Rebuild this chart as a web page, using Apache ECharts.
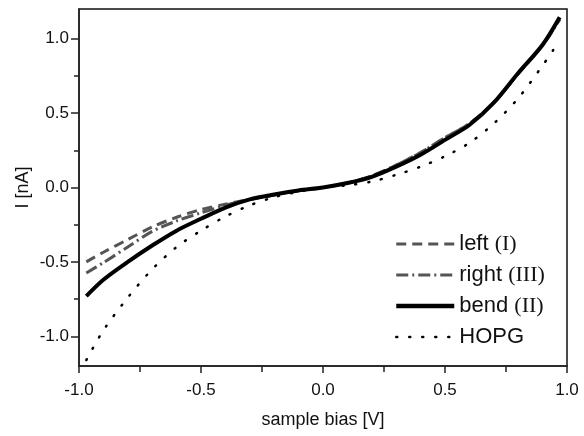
<!DOCTYPE html>
<html>
<head>
<meta charset="utf-8">
<script src="https://cdn.jsdelivr.net/npm/echarts@6/dist/echarts.min.js"></script>
<style>
  html, body { margin: 0; padding: 0; background: #fff; }
  #main { width: 584px; height: 436px; }
</style>
</head>
<body>
<div id="main"></div>
<script>
// sample bias [V]
var bias = [-0.97, -0.9, -0.8, -0.7, -0.6, -0.5, -0.4, -0.3, -0.2, -0.1, 0,
            0.1, 0.2, 0.3, 0.4, 0.5, 0.6, 0.7, 0.8, 0.9, 0.97];
var hopgBias = [-0.97, -0.9, -0.8, -0.7, -0.6, -0.5, -0.4, -0.3, -0.2, -0.1, 0,
                0.1, 0.2, 0.3, 0.4, 0.5, 0.6, 0.7, 0.8, 0.9, 0.95];

// current I [nA]
var leftI  = [-0.50, -0.435, -0.35, -0.265, -0.20, -0.148, -0.112, -0.08, -0.05, -0.02, 0,
              0.03, 0.078, 0.15, 0.235, 0.335, 0.43, 0.57, 0.765, 0.955, 1.13];
var rightIII = [-0.575, -0.505, -0.40, -0.295, -0.225, -0.17, -0.12, -0.08, -0.05, -0.02, 0,
                0.03, 0.078, 0.15, 0.235, 0.335, 0.43, 0.57, 0.765, 0.955, 1.13];
var bendII = [-0.73, -0.62, -0.50, -0.39, -0.29, -0.21, -0.135, -0.08, -0.047, -0.02, 0,
              0.03, 0.072, 0.14, 0.22, 0.32, 0.42, 0.57, 0.77, 0.96, 1.145];
var hopg   = [-1.16, -0.96, -0.74, -0.55, -0.40, -0.29, -0.195, -0.12, -0.065, -0.028, 0,
              0.015, 0.04, 0.085, 0.14, 0.21, 0.30, 0.43, 0.60, 0.82, 0.94];

var yTicks = [-1.0, -0.5, 0.0, 0.5, 1.0];
var yMinorTicks = [-0.75, -0.25, 0.25, 0.75];

function pairs(xs, ys) {
    var out = [];
    for (var i = 0; i < xs.length; i++) {
        out.push([xs[i], ys[i]]);
    }
    return out;
}

var myChart = echarts.init(document.getElementById('main'));

var labelFont = 'Liberation Sans, Arial, sans-serif';
var serifFont = 'Liberation Serif, Times New Roman, serif';

var legendNames = {
    'left': '{a|left }{b|(I)}',
    'right': '{a|right }{b|(III)}',
    'bend': '{a|bend }{b|(II)}',
    'HOPG': '{a|HOPG}'
};

var option = {
    backgroundColor: '#fff',
    animation: false,
    grid: {
        left: 79, right: 17, top: 9, bottom: 70,
        show: true,
        borderColor: '#111',
        borderWidth: 1.5
    },
    legend: {
        orient: 'vertical',
        left: 389,
        top: 228,
        itemWidth: 58,
        itemHeight: 14,
        itemGap: 9,
        itemStyle: { opacity: 0 },
        data: [
            { name: 'left', lineStyle: { width: 3 } },
            { name: 'right', lineStyle: { width: 3 } },
            { name: 'bend', lineStyle: { width: 4.5 } },
            { name: 'HOPG', lineStyle: { width: 2.5 } }
        ],
        formatter: function (name) { return legendNames[name]; },
        textStyle: {
            rich: {
                a: { fontFamily: labelFont, fontSize: 22, color: '#111', lineHeight: 26 },
                b: { fontFamily: serifFont, fontSize: 22, color: '#111', lineHeight: 26 }
            }
        }
    },
    xAxis: {
        type: 'value',
        min: -1,
        max: 1,
        interval: 0.5,
        name: 'sample bias [V]',
        nameLocation: 'middle',
        nameGap: 45,
        nameTextStyle: { fontFamily: labelFont, fontSize: 18, color: '#111' },
        axisLine: { onZero: false, lineStyle: { color: '#222', width: 1.5 } },
        axisTick: { inside: false, length: 7, lineStyle: { color: '#222', width: 1.5 } },
        minorTick: { show: true, splitNumber: 2, length: 6, lineStyle: { color: '#222', width: 1.5 } },
        axisLabel: {
            margin: 16,
            fontFamily: labelFont,
            fontSize: 17,
            color: '#111',
            formatter: function (v) { return v.toFixed(1); }
        },
        splitLine: { show: false }
    },
    yAxis: [{
        type: 'value',
        min: -1.2,
        max: 1.2,
        name: 'I [nA]',
        nameLocation: 'middle',
        nameGap: 47,
        nameMoveOverlap: false,
        nameTextStyle: { fontFamily: labelFont, fontSize: 18, color: '#111' },
        axisLine: { onZero: false, lineStyle: { color: '#222', width: 1.5 } },
        axisTick: { inside: false, length: 8, customValues: yTicks, lineStyle: { color: '#222', width: 1.5 } },
        axisLabel: {
            margin: 10,
            fontFamily: labelFont,
            fontSize: 17,
            color: '#111',
            customValues: yTicks,
            formatter: function (v) { return v.toFixed(1); }
        },
        splitLine: { show: false }
    }, {
        type: 'value',
        position: 'left',
        min: -1.2,
        max: 1.2,
        axisLine: { show: false, onZero: false },
        axisTick: { inside: false, length: 5, customValues: yMinorTicks, lineStyle: { color: '#222', width: 1.5 } },
        axisLabel: { show: false },
        splitLine: { show: false }
    }],
    series: [{
        name: 'left',
        type: 'line',
        z: 3,
        smooth: 0.3,
        symbol: 'none',
        itemStyle: { color: '#555' },
        lineStyle: { color: '#555', width: 3, type: [10, 6] },
        data: pairs(bias, leftI)
    }, {
        name: 'right',
        type: 'line',
        z: 3,
        smooth: 0.3,
        symbol: 'none',
        itemStyle: { color: '#555' },
        lineStyle: { color: '#555', width: 3, type: [12, 4, 2, 4] },
        data: pairs(bias, rightIII)
    }, {
        name: 'bend',
        type: 'line',
        z: 4,
        smooth: 0.3,
        symbol: 'none',
        itemStyle: { color: '#000' },
        lineStyle: { color: '#000', width: 4 },
        data: pairs(bias, bendII)
    }, {
        name: 'HOPG',
        type: 'line',
        z: 3,
        smooth: 0.3,
        symbol: 'none',
        itemStyle: { color: '#000' },
        lineStyle: { color: '#000', width: 2.5, type: [1, 12], cap: 'round' },
        data: pairs(hopgBias, hopg)
    }]
};

myChart.setOption(option);
</script>
</body>
</html>
